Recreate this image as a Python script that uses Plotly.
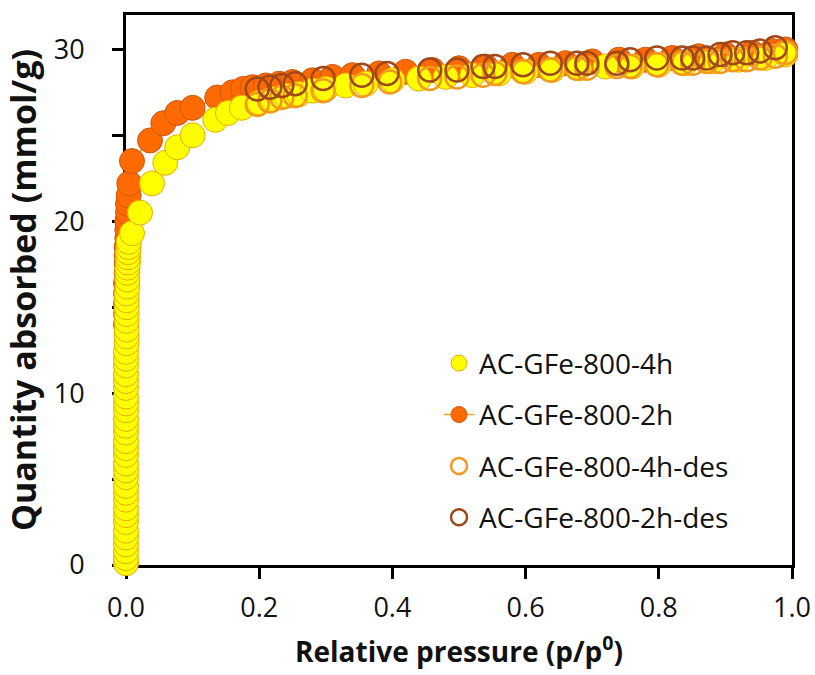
import plotly.graph_objects as go

# ---------------- data ----------------
# AC-GFe-800-4h adsorption
ads4_x = [0.000, 0.000, 0.000, 0.000, 0.000, 0.000, 0.000, 0.000, 0.000, 0.000,
          0.000, 0.000, 0.000, 0.000, 0.000, 0.000, 0.000, 0.000, 0.000, 0.000,
          0.000, 0.000, 0.000, 0.000, 0.000, 0.000, 0.000, 0.000, 0.000, 0.000,
          0.001, 0.001, 0.001, 0.001, 0.001, 0.001, 0.001, 0.001, 0.002, 0.002,
          0.002, 0.002, 0.003, 0.003, 0.003, 0.004, 0.004,
          0.009, 0.021, 0.039, 0.059, 0.077, 0.100, 0.134, 0.153, 0.174,
          0.200, 0.220, 0.240, 0.260, 0.280, 0.300, 0.330, 0.360, 0.400, 0.440,
          0.480, 0.520, 0.560, 0.600, 0.640, 0.680, 0.720, 0.760, 0.800, 0.840,
          0.880, 0.920, 0.960, 0.990]
ads4_y = [0.1, 0.4, 0.8, 1.2, 1.6, 2.0, 2.5, 2.9, 3.3, 3.8,
          4.2, 4.6, 5.1, 5.5, 5.9, 6.4, 6.8, 7.2, 7.7, 8.1,
          8.5, 9.0, 9.4, 9.8, 10.3, 10.7, 11.1, 11.6, 12.0, 12.4,
          12.9, 13.3, 13.7, 14.2, 14.6, 15.0, 15.4, 15.8, 16.2, 16.6,
          17.0, 17.3, 17.6, 17.9, 18.2, 18.5, 18.8,
          19.3, 20.5, 22.2, 23.4, 24.3, 25.0, 25.9, 26.3, 26.6,
          26.9, 27.1, 27.3, 27.4, 27.6, 27.7, 27.9, 28.0, 28.2, 28.3,
          28.4, 28.5, 28.6, 28.7, 28.8, 28.9, 29.0, 29.0, 29.1, 29.2,
          29.3, 29.4, 29.5, 29.7]

# AC-GFe-800-2h adsorption
ads2_x = [0.000, 0.000, 0.000, 0.000, 0.000, 0.001, 0.001, 0.001, 0.001, 0.002,
          0.002, 0.002, 0.003, 0.003, 0.004, 0.005,
          0.009, 0.036, 0.056, 0.077, 0.100, 0.137, 0.160, 0.176,
          0.190, 0.210, 0.230, 0.250, 0.280, 0.310, 0.340, 0.380, 0.420, 0.460,
          0.500, 0.540, 0.580, 0.620, 0.660, 0.700, 0.740, 0.780, 0.820, 0.860,
          0.900, 0.940, 0.970, 0.990]
ads2_y = [14.0, 14.6, 15.2, 15.8, 16.4, 17.0, 17.5, 18.0, 18.5, 19.0,
          19.5, 20.0, 20.5, 21.0, 21.5, 22.2,
          23.5, 24.7, 25.7, 26.3, 26.6, 27.2, 27.5, 27.7,
          27.8, 27.9, 28.0, 28.1, 28.2, 28.4, 28.5, 28.6, 28.7, 28.8,
          28.9, 29.0, 29.1, 29.1, 29.2, 29.3, 29.4, 29.4, 29.5, 29.6,
          29.7, 29.8, 29.9, 30.0]

# AC-GFe-800-4h desorption
des4_x = [0.197, 0.216, 0.234, 0.254, 0.296, 0.354, 0.396, 0.456, 0.497, 0.536,
          0.554, 0.596, 0.637, 0.677, 0.692, 0.737, 0.757, 0.797, 0.835, 0.851,
          0.872, 0.892, 0.911, 0.932, 0.952, 0.975, 0.990]
des4_y = [26.8, 27.0, 27.2, 27.3, 27.6, 27.9, 28.1, 28.3, 28.4, 28.5,
          28.6, 28.7, 28.8, 28.9, 28.9, 29.0, 29.0, 29.1, 29.2, 29.2,
          29.3, 29.3, 29.4, 29.4, 29.5, 29.6, 29.8]

# AC-GFe-800-2h desorption
des2_x = [0.197, 0.216, 0.234, 0.254, 0.296, 0.354, 0.392, 0.456, 0.497, 0.536,
          0.554, 0.596, 0.637, 0.677, 0.692, 0.737, 0.757, 0.797, 0.835, 0.851,
          0.872, 0.892, 0.911, 0.932, 0.952, 0.975]
des2_y = [27.7, 27.8, 27.9, 28.0, 28.3, 28.5, 28.6, 28.8, 28.8, 29.0,
          29.0, 29.1, 29.2, 29.2, 29.2, 29.2, 29.4, 29.5, 29.5, 29.5,
          29.5, 29.7, 29.8, 29.8, 29.9, 30.1]

names = ["AC-GFe-800-4h", "AC-GFe-800-2h", "AC-GFe-800-4h-des", "AC-GFe-800-2h-des"]

# ---------------- figure ----------------
MS = 25
fig = go.Figure()

fig.add_trace(go.Scatter(
    x=ads2_x, y=ads2_y, name=names[1], mode="lines+markers", legendrank=2,
    legendgroup="b", cliponaxis=False,
    line=dict(color="#F0A030", width=1.5),
    marker=dict(size=MS, color="#FF6A00", line=dict(color="#C85A10", width=1)),
))
fig.add_trace(go.Scatter(
    x=ads4_x, y=ads4_y, name=names[0], mode="markers", legendrank=1,
    legendgroup="a", cliponaxis=False,
    marker=dict(size=MS, color="#FFFF00", line=dict(color="#EBAA00", width=1)),
))
fig.add_trace(go.Scatter(
    x=des4_x, y=des4_y, name=names[2], mode="markers", legendrank=3,
    legendgroup="c", cliponaxis=False,
    marker=dict(size=MS - 2, color="#F39A1E", symbol="circle-open",
                line=dict(color="#F39A1E", width=2.5)),
))
fig.add_trace(go.Scatter(
    x=des2_x, y=des2_y, name=names[3], mode="markers", legendrank=4,
    legendgroup="d", cliponaxis=False,
    marker=dict(size=MS - 2, color="#A0481A", symbol="circle-open",
                line=dict(color="#A0481A", width=2.5)),
))

axis_common = dict(
    showline=True, linecolor="black", linewidth=3, mirror=True,
    ticks="outside", ticklen=11, tickwidth=3, tickcolor="black",
    showgrid=False, zeroline=False, automargin=False, layer="below traces",
    tickfont=dict(family="Open Sans", size=27, color="#111"),
)

fig.update_xaxes(
    range=[0, 1], tickvals=[0, 0.2, 0.4, 0.6, 0.8, 1.0], tickformat=".1f",
    title=dict(text="Relative pressure (p/p<sup>0</sup>)",
               font=dict(family="Open Sans", size=28, color="#111", weight="bold"),
               standoff=18),
    ticklabelstandoff=6,
    **axis_common,
)
fig.update_yaxes(
    range=[0, 32], tickvals=[0, 10, 20, 30],
    minor=dict(tickvals=[5, 15, 25], ticks="outside", ticklen=11, tickwidth=3, tickcolor="black"),
    title=dict(text="Quantity absorbed (mmol/g)",
               font=dict(family="Open Sans", size=34, color="#111", weight="bold"),
               standoff=8),
    ticklabelstandoff=22,
    **axis_common,
)

fig.update_layout(
    width=815, height=675,
    margin=dict(l=126, r=23, t=15, b=110),
    paper_bgcolor="white", plot_bgcolor="white",
    showlegend=True,
    legend=dict(
        x=0.47, y=0.412, xanchor="left", yanchor="top",
        font=dict(family="Open Sans", size=28, color="#111"),
        bgcolor="rgba(0,0,0,0)", traceorder="grouped", tracegroupgap=12,
        itemwidth=30,
    ),
)

fig.write_html("out.html")
